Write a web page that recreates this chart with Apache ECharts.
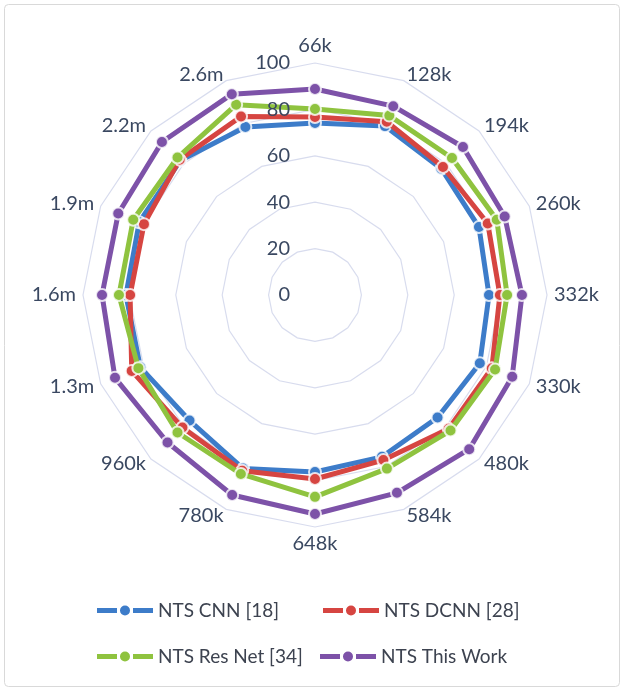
<!DOCTYPE html>
<html><head><meta charset="utf-8">
<script src="https://cdn.jsdelivr.net/npm/echarts@6/dist/echarts.min.js"></script>
<style>html,body{margin:0;padding:0;background:#fff}#c{width:620px;height:687px}</style>
</head><body><div id="c"></div>
<script>
const categories = ['66k','128k','194k','260k','332k','330k','480k','584k','648k','780k','960k','1.3m','1.6m','1.9m','2.2m','2.6m'];
const radialTicks = [0, 20, 40, 60, 80, 100];
const seriesNames = ['NTS CNN [18]', 'NTS DCNN [28]', 'NTS Res Net [34]', 'NTS This Work'];
const ntsCnn     = [74.1, 78.8, 77.0, 76.5, 75.0, 76.9, 74.7, 75.5, 76.3, 81.0, 76.5, 81.5, 81.5, 82.0, 82.0, 78.4];
const ntsDcnn    = [76.7, 80.8, 78.0, 80.6, 79.7, 82.5, 81.5, 77.0, 79.3, 82.0, 80.8, 85.5, 79.7, 79.8, 82.5, 83.3];
const ntsResNet  = [80.2, 83.7, 83.5, 84.8, 82.8, 84.0, 82.6, 81.0, 87.0, 83.5, 83.8, 82.4, 84.5, 84.8, 83.8, 88.8];
const ntsThis    = [88.8, 88.1, 90.2, 88.5, 89.2, 92.0, 94.0, 92.3, 94.4, 93.3, 89.9, 93.3, 91.8, 91.8, 93.3, 93.7];

const colors = ['#3D7CC9', '#D64541', '#8FC33F', '#7D52A8'];
const values = [ntsCnn, ntsDcnn, ntsResNet, ntsThis];
const FONT = 'Lato, "Noto Sans", sans-serif';
const textColor = '#3A4861';
const CX = 315, CY = 295, R = 232;
const iconPath = 'path://M0,0 L0.01,0 L0.01,0.01 Z M0,3.5 H20 V8.5 H0 Z M36,3.5 H56 V8.5 H36 Z M23,6 A5,5 0 1,0 33,6 A5,5 0 1,0 23,6 Z M55.99,12 L56,12 L56,11.99 Z';
const legendPos = [[92, 596], [318, 596], [92, 642], [315, 642]];

// ECharts radar runs counter-clockwise; reorder so the categories run clockwise from the top
const order = categories.map((_, i) => (categories.length - i) % categories.length);

const chart = echarts.init(document.getElementById('c'), null, {renderer: 'canvas'});
chart.setOption({
  animation: false,
  backgroundColor: '#ffffff',
  graphic: [{
    type: 'rect', left: 2, top: 2,
    shape: {width: 615, height: 682, r: 4},
    style: {fill: 'none', stroke: '#d9d9d9', lineWidth: 1}, z: -10
  }],
  legend: seriesNames.map((n, i) => ({
    data: [n], left: legendPos[i][0], top: legendPos[i][1],
    icon: iconPath, itemWidth: 56, itemHeight: 12,
    itemStyle: {borderWidth: 0},
    textStyle: {fontSize: 19, color: '#3d4350', fontFamily: FONT},
    selectedMode: false
  })),
  radar: {
    center: [CX, CY], radius: R, startAngle: 90, shape: 'polygon', splitNumber: 5,
    indicator: order.map(k => ({name: categories[k], min: 0, max: 100})),
    axisName: {color: textColor, fontSize: 20, fontFamily: FONT},
    nameGap: 7,
    axisLine: {show: false},
    axisTick: {show: false},
    axisLabel: {show: false},
    splitArea: {show: false},
    splitLine: {lineStyle: {color: '#d8dcee', width: 1.2}}
  },
  grid: {left: CX, top: CY - R, width: 1, height: R, z: 20},
  xAxis: {type: 'value', show: false},
  yAxis: {
    type: 'value', z: 20, min: radialTicks[0], max: radialTicks[radialTicks.length - 1],
    interval: radialTicks[1] - radialTicks[0],
    axisLine: {show: false}, axisTick: {show: false}, splitLine: {show: false},
    axisLabel: {margin: 25, fontSize: 20, color: textColor, fontFamily: FONT}
  },
  series: seriesNames.map((n, i) => ({
    type: 'radar', z: 2 + i,
    symbol: 'circle', symbolSize: 12,
    data: [{
      name: n, value: order.map(k => values[i][k]),
      lineStyle: {color: colors[i], width: 5},
      itemStyle: {color: colors[i], borderColor: 'rgba(255,255,255,0.8)', borderWidth: 2}
    }]
  }))
});
</script></body></html>
